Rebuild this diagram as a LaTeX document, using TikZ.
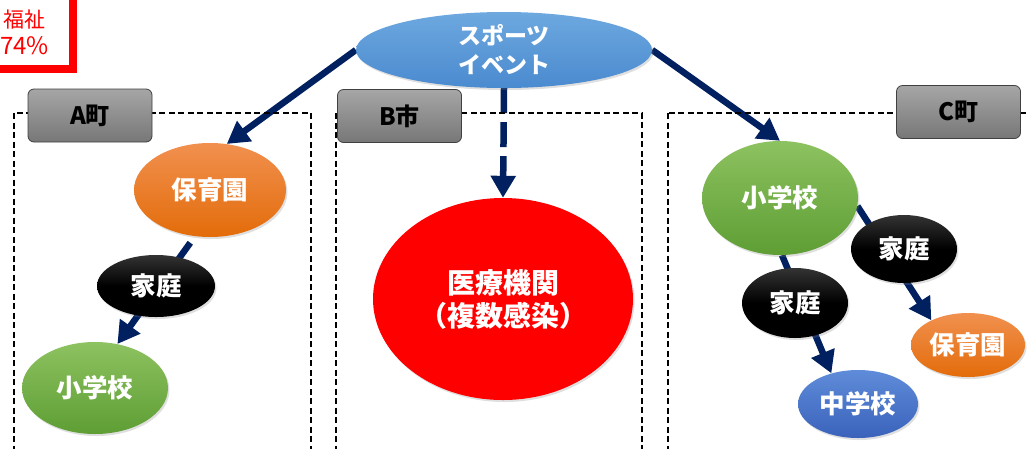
\documentclass[tikz,border=0pt]{standalone}
\usepackage{fontspec}
\newfontfamily\jp{Noto Sans CJK JP}
\usetikzlibrary{arrows.meta,shapes.geometric,shadows,backgrounds}
\definecolor{navy}{RGB}{0,32,96}
\definecolor{orT}{HTML}{F1904F}
\definecolor{orB}{HTML}{E36C0A}
\definecolor{grT}{HTML}{8DC260}
\definecolor{grB}{HTML}{5E9E34}
\definecolor{evT}{HTML}{6DA8DF}
\definecolor{evB}{HTML}{4A8ACF}
\definecolor{chT}{HTML}{5F8CD9}
\definecolor{chB}{HTML}{3A62BB}
\definecolor{lbT}{HTML}{A6A6A6}
\definecolor{lbB}{HTML}{777777}
\begin{document}
\begin{tikzpicture}[x=1pt,y=-1pt,
  every node/.style={inner sep=0pt},
  bub/.style={ellipse, text=white, align=center,
    font=\jp\bfseries\fontsize{25.5}{29}\selectfont,
    drop shadow={opacity=0.25, shadow xshift=1.5pt, shadow yshift=-2pt}},
  orangeb/.style={bub, top color=orT, bottom color=orB},
  greenb/.style={bub, top color=grT, bottom color=grB},
  blackb/.style={bub, top color=black!80, bottom color=black, middle color=black},
  blueb/.style={bub, top color=chT, bottom color=chB},
  lab/.style={draw=black!75, line width=0.8pt, rounded corners=6pt,
    top color=lbT, bottom color=lbB, text=black,
    font=\jp\bfseries\fontsize{24}{28}\selectfont,
    minimum width=124pt, minimum height=53pt},
  dbox/.style={draw=black, line width=1.8pt, dash pattern=on 6pt off 3.5pt},
  arr/.style={draw=navy, line width=6.5pt, -{Triangle[width=24pt,length=22pt]}},
  redtxt/.style={anchor=base west, text=red, font=\jp\fontsize{21}{25}\selectfont}
]
\useasboundingbox (0,0) rectangle (1030,448);
\clip (0,0) rectangle (1030,448);

% red frame
\draw[draw=red, line width=8pt] (-10,-10) rectangle (72.5,69);
\node[redtxt] (fuku) at (3,27) {福祉};
\node[redtxt, font=\jp\fontsize{24}{28}\selectfont] (pct) at (0,54) {74\%};

% dashed areas
\draw[dbox] (14,113) rectangle (311,452);
\draw[dbox] (336,113) rectangle (642,452);
\draw[dbox] (668,113) rectangle (1040,452);

% labels
\node[lab] (labA) at (90,115.5) {A町};
\node[lab] (labB) at (399.5,116) {B市};
\node[lab] (labC) at (958.5,112) {C町};

% nodes
\node[bub, top color=evT, bottom color=evB, minimum width=296pt, minimum height=76pt,
  font=\jp\bfseries\fontsize{23}{29}\selectfont] (event) at (504,50) {スポーツ\\イベント};

\node[orangeb, minimum width=152pt, minimum height=94pt] (hoikuA) at (210,190) {保育園};
\node[blackb, minimum width=118pt, minimum height=62pt] (kateiA) at (156,286) {家庭};
\node[greenb, minimum width=146pt, minimum height=92pt] (shoA) at (95,388) {小学校};

\node[bub, fill=red, minimum width=260pt, minimum height=202pt,
  font=\jp\bfseries\fontsize{28}{33}\selectfont] (iryo) at (503,299) {医療機関\\（複数感染）};

\node[greenb, minimum width=156pt, minimum height=114pt] (shoC) at (780,198) {小学校};
\node[blackb, minimum width=106pt, minimum height=68pt] (kateiC2) at (904,249) {家庭};
\node[blackb, minimum width=106pt, minimum height=70pt] (kateiC1) at (795,303) {家庭};
\node[orangeb, minimum width=114pt, minimum height=64pt] (hoikuC) at (968,345) {保育園};
\node[blueb, minimum width=120pt, minimum height=68pt] (chu) at (858,404) {中学校};

\begin{pgfonlayer}{background}
\draw[arr] (event.west) -- (hoikuA.70);
\draw[arr, dash pattern=on 25pt off 9pt] (event.south) -- (iryo.north);
\draw[arr] (event.east) -- (shoC.north);
\draw[arr, shorten <=8pt] (hoikuA.-108) -- (shoA.63);
\draw[arr] (shoC.-88) -- (chu.131);
\draw[arr] (shoC.-6) -- (hoikuC.146);
\end{pgfonlayer}
\end{tikzpicture}
\end{document}
